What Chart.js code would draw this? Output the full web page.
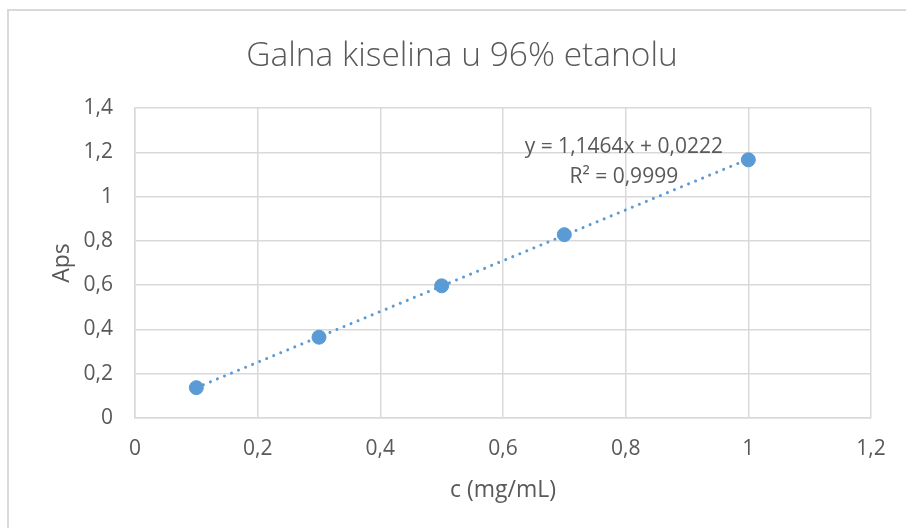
<!DOCTYPE html>
<html>
<head>
<meta charset="utf-8">
<script src="https://cdn.jsdelivr.net/npm/chart.js@4.4.1/dist/chart.umd.min.js"></script>
<style>
  html, body { margin: 0; padding: 0; background: #ffffff; }
  #wrap { width: 906px; height: 528px; position: relative; }
</style>
</head>
<body>
<div id="wrap"><canvas id="c" width="906" height="528"></canvas></div>
<script>
const chartTitle = 'Galna kiselina u 96% etanolu';
const xAxisTitle = 'c (mg/mL)';
const yAxisTitle = 'Aps';
const concentrations = [0.1, 0.3, 0.5, 0.7, 1.0];
const absorbances = [0.137, 0.365, 0.597, 0.828, 1.166];
const trendX = [0.1, 1.0];
const trendY = [0.137, 1.169];
const equationLines = ['y = 1,1464x + 0,0222', 'R² = 0,9999'];

const FONT = '"Open Sans", Lato, sans-serif';
const TEXT = '#595959';
const GRID = '#d9d9d9';
const BLUE = '#5b9bd5';

const fmt = v => String(Math.round(v * 10) / 10).replace('.', ',');

const frame = {
  id: 'frame',
  beforeDraw(chart) {
    const ctx = chart.ctx;
    ctx.save();
    ctx.fillStyle = '#ffffff';
    ctx.fillRect(0, 0, chart.width, chart.height);
    ctx.strokeStyle = GRID;
    ctx.lineWidth = 2;
    ctx.beginPath();
    ctx.moveTo(8, chart.height);
    ctx.lineTo(8, 10);
    ctx.lineTo(chart.width, 10);
    ctx.stroke();
    ctx.restore();
  }
};

const titleText = {
  id: 'titleText',
  afterDraw(chart) {
    const ctx = chart.ctx;
    ctx.save();
    ctx.fillStyle = TEXT;
    ctx.font = '300 33.5px ' + FONT;
    ctx.textAlign = 'center';
    ctx.textBaseline = 'middle';
    ctx.fillText(chartTitle, 462, 56);
    ctx.restore();
  }
};

const equation = {
  id: 'equation',
  afterDatasetsDraw(chart) {
    const ctx = chart.ctx;
    const x = chart.scales.x.getPixelForValue(0.797);
    const ys = [1.224, 1.09].map(v => chart.scales.y.getPixelForValue(v));
    ctx.save();
    ctx.fillStyle = TEXT;
    ctx.font = '21px ' + FONT;
    ctx.textAlign = 'center';
    ctx.textBaseline = 'middle';
    equationLines.forEach((t, i) => ctx.fillText(t, x, ys[i]));
    ctx.restore();
  }
};

new Chart(document.getElementById('c'), {
  type: 'scatter',
  data: {
    datasets: [
      {
        label: 'Aps',
        data: concentrations.map((x, i) => ({ x, y: absorbances[i] })),
        backgroundColor: BLUE,
        borderColor: BLUE,
        pointRadius: 7,
        pointHoverRadius: 7,
        showLine: false
      },
      {
        label: 'trend',
        data: trendX.map((x, i) => ({ x, y: trendY[i] })),
        showLine: true,
        borderColor: BLUE,
        borderWidth: 3,
        borderDash: [0.01, 7.6],
        borderCapStyle: 'round',
        pointRadius: 0,
        fill: false
      }
    ]
  },
  options: {
    responsive: false,
    animation: false,
    layout: { padding: { left: 0, right: 35, top: 108, bottom: 0 } },
    plugins: {
      legend: { display: false },
      tooltip: { enabled: false },
      title: { display: false }
    },
    scales: {
      x: {
        type: 'linear',
        min: 0, max: 1.2,
        afterFit(s) { s.height = 110; },
        ticks: { stepSize: 0.2, color: TEXT, font: { family: FONT, size: 21 }, padding: 18, callback: fmt, maxRotation: 0 },
        grid: { color: GRID, lineWidth: 1.5, drawTicks: false },
        border: { color: GRID, width: 1.5 },
        title: { display: true, text: xAxisTitle, color: TEXT, font: { family: FONT, size: 23 }, padding: { top: 24, bottom: 24 } }
      },
      y: {
        type: 'linear',
        min: 0, max: 1.4,
        afterFit(s) { s.width = 135; },
        ticks: { stepSize: 0.2, color: TEXT, font: { family: FONT, size: 21 }, padding: 22, callback: fmt },
        grid: { color: GRID, lineWidth: 1.5, drawTicks: false },
        border: { color: GRID, width: 1.5 },
        title: { display: true, text: yAxisTitle, color: TEXT, font: { family: FONT, size: 23 }, padding: { top: 49, bottom: 49 } }
      }
    }
  },
  plugins: [frame, titleText, equation]
});
</script>
</body>
</html>
